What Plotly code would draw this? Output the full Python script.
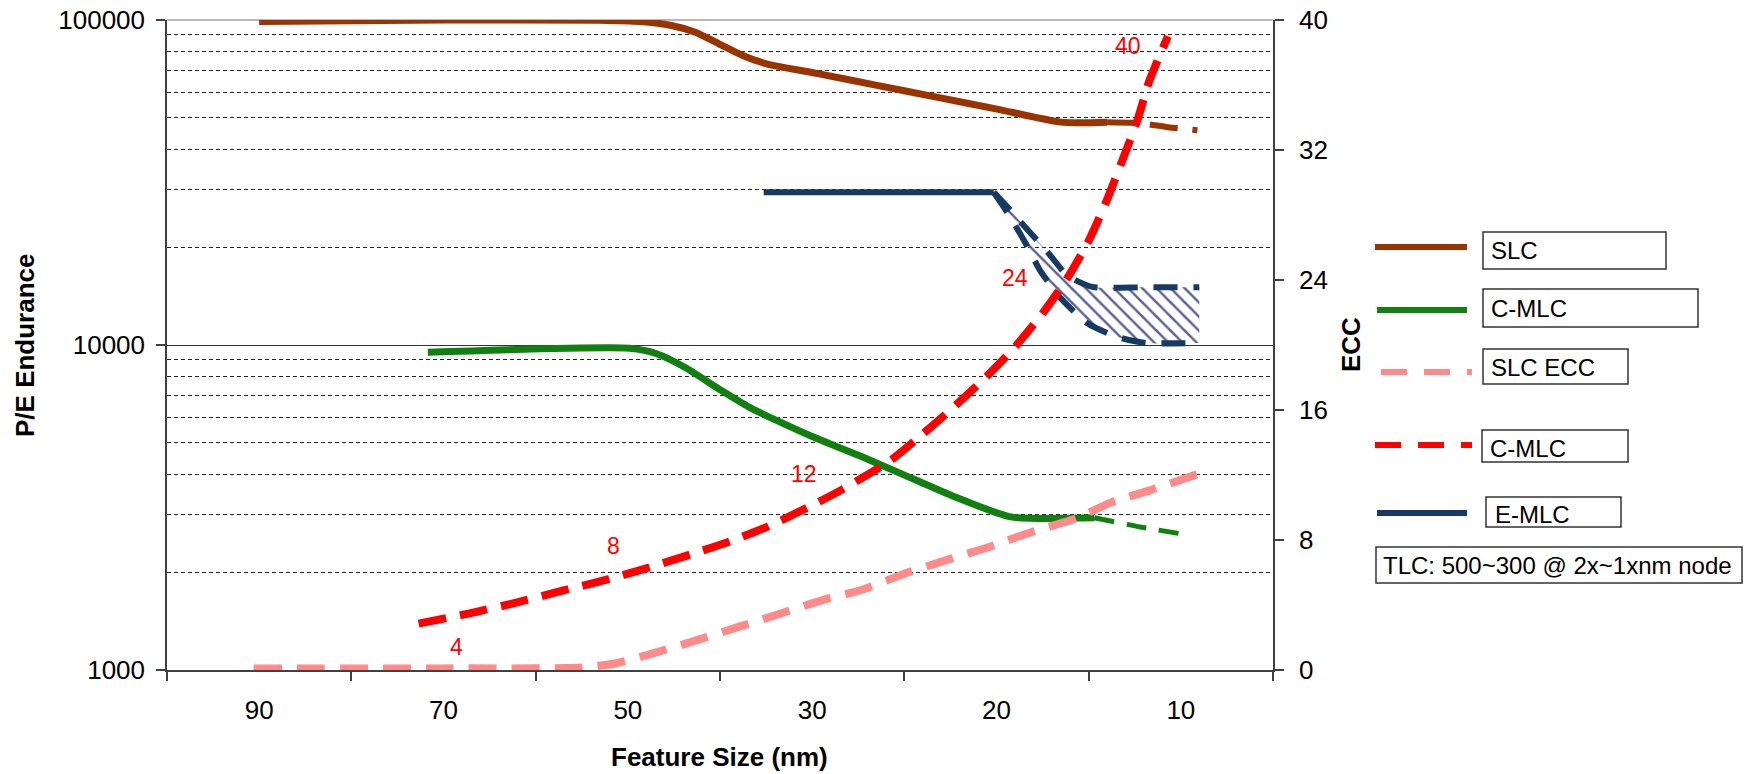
import plotly.graph_objects as go

# ---------------- data ----------------
categories = ["90", "70", "50", "30", "20", "10"]
cat_pos = [0, 1, 2, 3, 4, 5]

# P/E endurance (left, log axis); x given as position along the category axis
slc_x = [0.0, 1.0, 1.85, 2.065, 2.236, 2.366, 2.494, 2.623, 2.752, 3.031, 3.352, 3.674, 3.996, 4.35, 4.6]
slc_y = [99000, 100000, 99800, 98900, 96200, 91700, 84500, 77800, 73300, 68400, 62900, 57900, 53300, 48500, 48500]
slc_ext_x = [4.6, 4.77, 4.93, 5.09]
slc_ext_y = [48500, 48200, 46800, 45800]

cmlc_x = [0.915, 2.01, 2.16, 2.309, 2.508, 2.658, 2.807, 3.006, 3.255, 3.504, 3.753, 4.077, 4.53]
cmlc_y = [9500, 9770, 9385, 8540, 7240, 6440, 5860, 5210, 4570, 3970, 3450, 2960, 2940]
cmlc_ext_x = [4.53, 4.78, 5.01]
cmlc_ext_y = [2940, 2755, 2620]

emlc_x = [2.737, 3.985]
emlc_y = [29500, 29500]
emlc_hi_x = [3.985, 4.085, 4.148, 4.278, 4.383, 4.52, 4.8, 5.1]
emlc_hi_y = [29500, 25650, 23300, 19300, 16390, 15090, 15050, 15050]
emlc_lo_x = [3.985, 4.07, 4.157, 4.238, 4.35, 4.495, 4.655, 4.808, 5.1]
emlc_lo_y = [29500, 25000, 20600, 16900, 13900, 11640, 10590, 10150, 10150]

# ECC (right axis)
slc_ecc_x = [-0.03, 1.0, 1.75, 1.93, 2.16, 2.38, 2.605, 2.83, 3.056, 3.28, 3.504, 3.728, 3.96, 4.18, 4.425, 4.62, 4.836, 5.09]
slc_ecc_y = [0.1, 0.1, 0.15, 0.4, 1.1, 1.85, 2.67, 3.48, 4.3, 4.97, 5.94, 6.76, 7.57, 8.45, 9.31, 10.3, 11.07, 12.05]
cmlc_ecc_x = [0.865, 1.167, 1.40, 1.625, 1.86, 2.086, 2.312, 2.538, 2.755, 2.976, 3.162, 3.425, 3.56,
              3.745, 3.922, 4.085, 4.247, 4.383, 4.495, 4.591, 4.676, 4.763, 4.83, 4.93]
cmlc_ecc_y = [2.85, 3.55, 4.16, 4.82, 5.49, 6.21, 7.01, 7.85, 8.81, 10.0, 11.1, 12.9, 14.14,
              15.95, 17.79, 19.68, 21.9, 24.09, 26.3, 28.7, 31.16, 33.78, 36.28, 39.0]

ecc_labels = ["4", "8", "12", "24", "40"]
ecc_label_x = [1.07, 1.922, 2.958, 4.10, 4.716]
ecc_label_y = [1.41, 7.62, 12.08, 24.10, 38.43]

left_ticks = [1000, 10000, 100000]
left_minor = [2000, 3000, 4000, 5000, 6000, 7000, 8000, 9000,
              20000, 30000, 40000, 50000, 60000, 70000, 80000, 90000]
right_ticks = [0, 8, 16, 24, 32, 40]

legend_names = ["SLC", "C-MLC", "SLC ECC", "C-MLC", "E-MLC"]
note_text = "TLC: 500~300 @ 2x~1xnm node"

# ---------------- style ----------------
BROWN = "#993300"
GREEN = "#118011"
PINK = "#FF8A8A"
RED = "#FF0000"
NAVY = "#173A64"
HATCH = "#5C6191"
AX = "#404040"
FONT = "Liberation Sans, Arial, sans-serif"

W, H = 1752, 774
L, T, PW, PH = 167, 20, 1106, 650


def px(x):
    return (x - L) / PW


def py(y):
    return 1 - (y - T) / PH


fig = go.Figure()

# SLC ECC (pink dashed)
fig.add_trace(go.Scatter(x=slc_ecc_x, y=slc_ecc_y, yaxis="y2", mode="lines",
                         line=dict(color=PINK, width=8, dash="28px,15px", shape="spline", smoothing=0.6),
                         showlegend=False, hoverinfo="skip"))
# E-MLC band
fig.add_trace(go.Scatter(x=emlc_hi_x, y=emlc_hi_y, mode="lines",
                         line=dict(color=NAVY, width=6, dash="24px,16px", shape="spline", smoothing=0.6),
                         showlegend=False, hoverinfo="skip"))
fig.add_trace(go.Scatter(x=emlc_lo_x, y=emlc_lo_y, mode="lines",
                         line=dict(color=NAVY, width=6, dash="24px,16px", shape="spline", smoothing=0.6),
                         fill="tonexty", fillcolor="rgba(255,255,255,0)",
                         fillpattern=dict(shape="\\", fgcolor=HATCH, bgcolor="rgba(255,255,255,0)",
                                          size=10, solidity=0.25, fillmode="replace"),
                         showlegend=False, hoverinfo="skip"))
fig.add_trace(go.Scatter(x=emlc_x, y=emlc_y, mode="lines",
                         line=dict(color=NAVY, width=6), showlegend=False, hoverinfo="skip"))
# SLC endurance (brown)
fig.add_trace(go.Scatter(x=slc_x, y=slc_y, mode="lines",
                         line=dict(color=BROWN, width=7, shape="spline", smoothing=0.6),
                         showlegend=False, hoverinfo="skip"))
fig.add_trace(go.Scatter(x=slc_ext_x, y=slc_ext_y, mode="lines",
                         line=dict(color=BROWN, width=6, dash="28px,15px", shape="spline", smoothing=0.6),
                         showlegend=False, hoverinfo="skip"))
# C-MLC ECC (red dashed)
fig.add_trace(go.Scatter(x=cmlc_ecc_x, y=cmlc_ecc_y, yaxis="y2", mode="lines",
                         line=dict(color=RED, width=8, dash="28px,14px", shape="spline", smoothing=0.6),
                         showlegend=False, hoverinfo="skip"))
# C-MLC endurance (green)
fig.add_trace(go.Scatter(x=cmlc_x, y=cmlc_y, mode="lines",
                         line=dict(color=GREEN, width=7, shape="spline", smoothing=0.6),
                         showlegend=False, hoverinfo="skip"))
fig.add_trace(go.Scatter(x=cmlc_ext_x, y=cmlc_ext_y, mode="lines",
                         line=dict(color=GREEN, width=5, dash="20px,13px", shape="spline", smoothing=0.6),
                         showlegend=False, hoverinfo="skip"))

# ECC value labels
for t, x, y in zip(ecc_labels, ecc_label_x, ecc_label_y):
    fig.add_annotation(x=x, y=y, xref="x", yref="y2", text=t, showarrow=False,
                       font=dict(family=FONT, size=23, color=RED), xanchor="center", yanchor="middle")

# axis titles
fig.add_annotation(x=px(25), y=py(345), xref="paper", yref="paper", text="<b>P/E Endurance</b>",
                   textangle=-90, showarrow=False, xanchor="center", yanchor="middle",
                   font=dict(family=FONT, size=26, color="black"))
fig.add_annotation(x=px(1351), y=py(345), xref="paper", yref="paper", text="<b>ECC</b>",
                   textangle=-90, showarrow=False, xanchor="center", yanchor="middle",
                   font=dict(family=FONT, size=26, color="black"))
fig.add_annotation(x=px(719), y=py(757), xref="paper", yref="paper", text="<b>Feature Size (nm)</b>",
                   showarrow=False, xanchor="center", yanchor="middle",
                   font=dict(family=FONT, size=26, color="black"))

# custom legend
leg_lines = [
    (1375, 1467, 247, BROWN, "solid"),
    (1377, 1467, 310, GREEN, "solid"),
    (1381, 1472, 372, PINK, "26px,17px"),
    (1375, 1472, 445, RED, "26px,17px"),
    (1377, 1467, 513, NAVY, "solid"),
]
leg_boxes = [
    (1483, 1666, 232, 269),
    (1483, 1698, 289, 327),
    (1483, 1628, 349, 384),
    (1482, 1628, 430, 462),
    (1486, 1621, 497, 527),
]
leg_text = [(1489, 250), (1489, 308), (1489, 367), (1488, 448), (1493, 514)]
shapes = []
for (x0, x1, y, c, d) in leg_lines:
    shapes.append(dict(type="line", xref="paper", yref="paper", x0=px(x0), x1=px(x1), y0=py(y), y1=py(y),
                       line=dict(color=c, width=6, dash=d)))
for (x0, x1, y0, y1) in leg_boxes:
    shapes.append(dict(type="rect", xref="paper", yref="paper", x0=px(x0), x1=px(x1), y0=py(y0), y1=py(y1),
                       line=dict(color="#333333", width=1.5)))
shapes.append(dict(type="rect", xref="paper", yref="paper", x0=px(1376), x1=px(1742), y0=py(547), y1=py(583),
                   line=dict(color="#333333", width=1.5)))
# top border
shapes.append(dict(type="line", xref="paper", yref="paper", x0=0, x1=1, y0=1, y1=1,
                   line=dict(color="#A0A0A0", width=1.5), layer="below"))
for name, (tx, ty) in zip(legend_names, leg_text):
    fig.add_annotation(x=px(tx), y=py(ty), xref="paper", yref="paper", text=name, showarrow=False,
                       xanchor="left", yanchor="middle", font=dict(family=FONT, size=24, color="black"))
fig.add_annotation(x=px(1381), y=py(565), xref="paper", yref="paper", text=note_text, showarrow=False,
                   xanchor="left", yanchor="middle", font=dict(family=FONT, size=24, color="black"))

fig.update_layout(
    width=W, height=H,
    margin=dict(l=L, r=W - L - PW, t=T, b=H - T - PH, autoexpand=False),
    paper_bgcolor="white", plot_bgcolor="white",
    showlegend=False,
    shapes=shapes,
    font=dict(family=FONT, size=26, color="black"),
    xaxis=dict(range=[-0.5, 5.5], tickmode="array", tickvals=cat_pos, ticktext=categories,
               ticks="", showline=True, linecolor=AX, linewidth=1.5, showgrid=False, zeroline=False,
               tickfont=dict(size=26, family=FONT, color="black"), ticklabelstandoff=16,
               minor=dict(tickmode="array", tickvals=[p - 0.5 for p in cat_pos] + [5.5],
                          ticks="outside", ticklen=9, tickcolor=AX, tickwidth=1.5, showgrid=False)),
    yaxis=dict(type="log", range=[3, 5], tickmode="array", tickvals=left_ticks,
               ticktext=[str(v) for v in left_ticks], ticks="outside", ticklen=9, tickcolor=AX, tickwidth=1.5,
               showline=True, linecolor=AX, linewidth=1.5, showgrid=True, gridcolor="#333333", gridwidth=1,
               zeroline=False, tickfont=dict(size=26, family=FONT, color="black"), ticklabelstandoff=6,
               minor=dict(tickmode="array", tickvals=left_minor, showgrid=True, griddash="4px,3px",
                          gridcolor="#222222", gridwidth=1, ticks="")),
    yaxis2=dict(range=[0, 40], overlaying="y", side="right", tickmode="array", tickvals=right_ticks,
                ticks="outside", ticklen=9, tickcolor=AX, tickwidth=1.5, showline=True, linecolor=AX,
                linewidth=1.5, showgrid=False, zeroline=False,
                tickfont=dict(size=26, family=FONT, color="black"), ticklabelstandoff=10),
)

fig.write_html("out.html", config={"displayModeBar": False},
               post_script="document.body.style.margin='0';document.body.style.overflow='hidden';")
